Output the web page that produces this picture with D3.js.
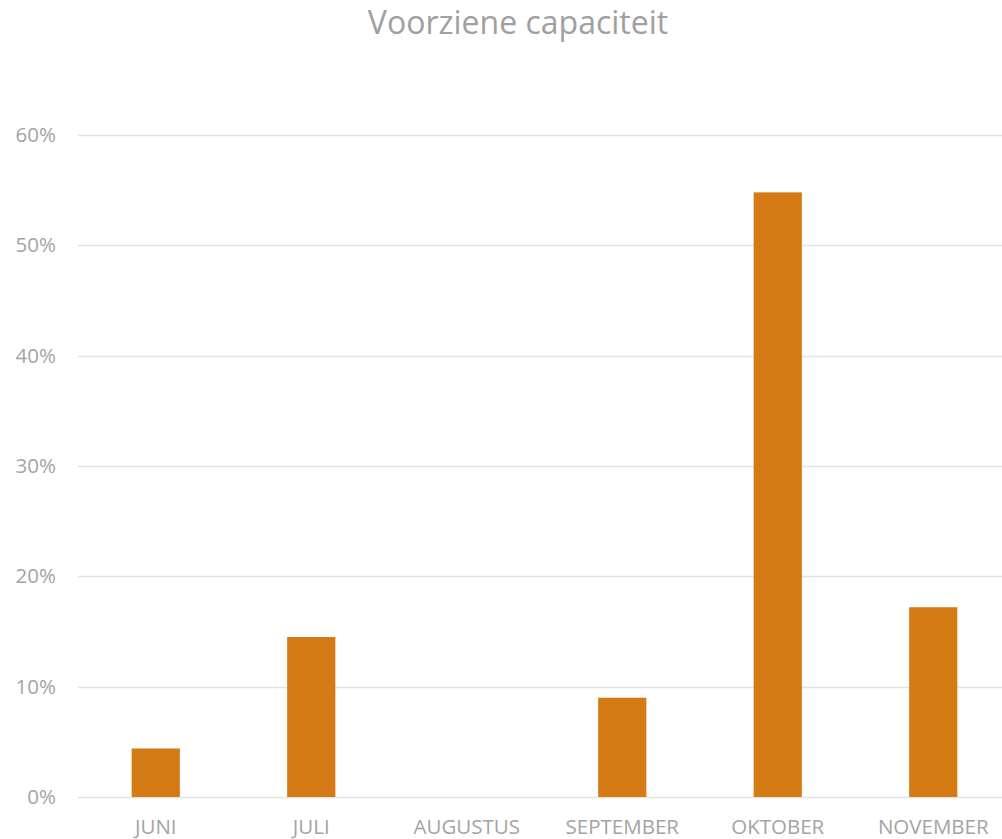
<!DOCTYPE html>
<html>
<head>
<meta charset="utf-8">
<script src="https://cdn.jsdelivr.net/npm/d3@7"></script>
<style>
  body { margin: 0; background: #fff; }
  svg { display: block; font-family: "Open Sans", sans-serif; }
</style>
</head>
<body>
<svg id="chart" width="1002" height="839"></svg>
<script>
// data
const months = ["JUNI", "JULI", "AUGUSTUS", "SEPTEMBER", "OKTOBER", "NOVEMBER"];
const capacity = [0.044, 0.145, 0, 0.09, 0.548, 0.172];
const yTicks = [0, 0.1, 0.2, 0.3, 0.4, 0.5, 0.6];

const svg = d3.select("#chart");
const W = 1002, H = 839;
const margin = {left: 78, right: -9, top: 135, bottom: 42};

const x = d3.scaleBand()
    .domain(months)
    .range([margin.left, W - margin.right])
    .paddingInner(0.69)
    .paddingOuter(0.345);

const y = d3.scaleLinear()
    .domain([0, 0.6])
    .range([H - margin.bottom, margin.top]);

// title
svg.append("text")
    .attr("x", 518)
    .attr("y", 34)
    .attr("text-anchor", "middle")
    .attr("fill", "#a0a0a0")
    .style("font-size", "32px")
    .text("Voorziene capaciteit");

// gridlines
svg.append("g")
  .selectAll("line")
  .data(yTicks)
  .join("line")
    .attr("x1", margin.left)
    .attr("x2", W)
    .attr("y1", d => Math.round(y(d)) + 0.5)
    .attr("y2", d => Math.round(y(d)) + 0.5)
    .attr("stroke", "#e3e3e3")
    .attr("stroke-width", 1.5);

// y axis labels
const yAxis = d3.axisLeft(y)
    .tickValues(yTicks)
    .tickFormat(d3.format(".0%"))
    .tickSize(0)
    .tickPadding(22);

svg.append("g")
    .attr("transform", `translate(${margin.left},0)`)
    .call(yAxis)
    .call(g => g.select(".domain").remove())
    .call(g => g.selectAll("text")
        .attr("fill", "#a4a4a4")
        .style("font-size", "20.5px")
        .style("font-family", "Open Sans, sans-serif"));

// bars
svg.append("g")
  .selectAll("rect")
  .data(months.map((m, i) => ({m, v: capacity[i]})))
  .join("rect")
    .attr("x", d => x(d.m))
    .attr("width", x.bandwidth())
    .attr("y", d => y(d.v))
    .attr("height", d => y(0) - y(d.v))
    .attr("fill", "#d57b16");

// x axis labels
const xAxis = d3.axisBottom(x).tickSize(0).tickPadding(22);
svg.append("g")
    .attr("transform", `translate(0,${y(0)})`)
    .call(xAxis)
    .call(g => g.select(".domain").remove())
    .call(g => g.selectAll("text")
        .attr("fill", "#a4a4a4")
        .style("font-size", "20.5px")
        .style("font-family", "Open Sans, sans-serif"));
</script>
</body>
</html>
